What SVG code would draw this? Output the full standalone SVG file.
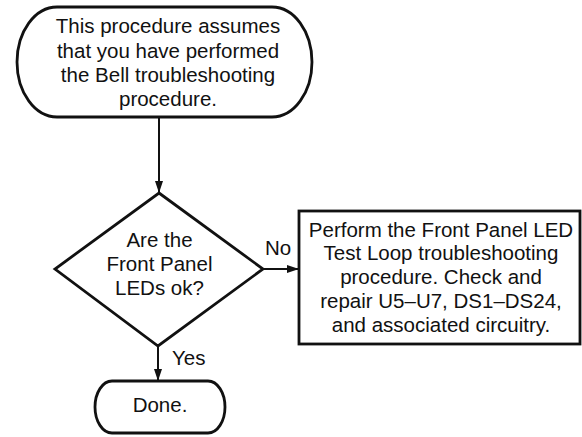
<svg xmlns="http://www.w3.org/2000/svg" width="582" height="437" viewBox="0 0 582 437">
<style>
.s{fill:#fff;stroke:#111;stroke-width:2.8}
.t{font-family:"Liberation Sans",Arial,sans-serif;font-size:20.5px;fill:#111;text-anchor:middle}
.l{font-family:"Liberation Sans",Arial,sans-serif;font-size:20.5px;fill:#111}
.c{stroke:#111;stroke-width:2;fill:none}
</style>
<defs>
<marker id="ah" viewBox="0 0 12 8" refX="12" refY="4" markerWidth="12" markerHeight="8" markerUnits="userSpaceOnUse" orient="auto">
<path d="M0,0 L12,4 L0,8 Z" fill="#111"/>
</marker>
</defs>
<rect width="582" height="437" fill="#fff"/>
<g id="connectors">
<line class="c" x1="159" y1="118" x2="159" y2="193" marker-end="url(#ah)"/>
<line class="c" x1="263" y1="269" x2="299" y2="269" marker-end="url(#ah)"/>
<line class="c" x1="158" y1="346" x2="158" y2="381" marker-end="url(#ah)"/>
<text class="l" x="265" y="255">No</text>
<text class="l" x="172" y="365">Yes</text>
</g>
<g id="start">
<path class="s" d="M57,7 L272,7 A40,55 0 0 1 272,117 L57,117 A40,55 0 0 1 57,7 Z"/>
<text class="t" x="168" y="33">This procedure assumes</text>
<text class="t" x="168" y="57.5">that you have performed</text>
<text class="t" x="168" y="82">the Bell troubleshooting</text>
<text class="t" x="168" y="106">procedure.</text>
</g>
<g id="decision">
<polygon class="s" points="159,193 263,269 158,346 55,269"/>
<text class="t" x="159.5" y="247">Are the</text>
<text class="t" x="159.5" y="271">Front Panel</text>
<text class="t" x="159.5" y="295">LEDs ok?</text>
</g>
<g id="action">
<rect class="s" x="299" y="211" width="281" height="133"/>
<text class="t" x="441" y="237">Perform the Front Panel LED</text>
<text class="t" x="441" y="260">Test Loop troubleshooting</text>
<text class="t" x="441" y="284">procedure. Check and</text>
<text class="t" x="441" y="308">repair U5–U7, DS1–DS24,</text>
<text class="t" x="441" y="332">and associated circuitry.</text>
</g>
<g id="done">
<path class="s" d="M112,381 L208,381 A17,26 0 0 1 208,433 L112,433 A17,26 0 0 1 112,381 Z"/>
<text class="t" x="160" y="412">Done.</text>
</g>
</svg>
